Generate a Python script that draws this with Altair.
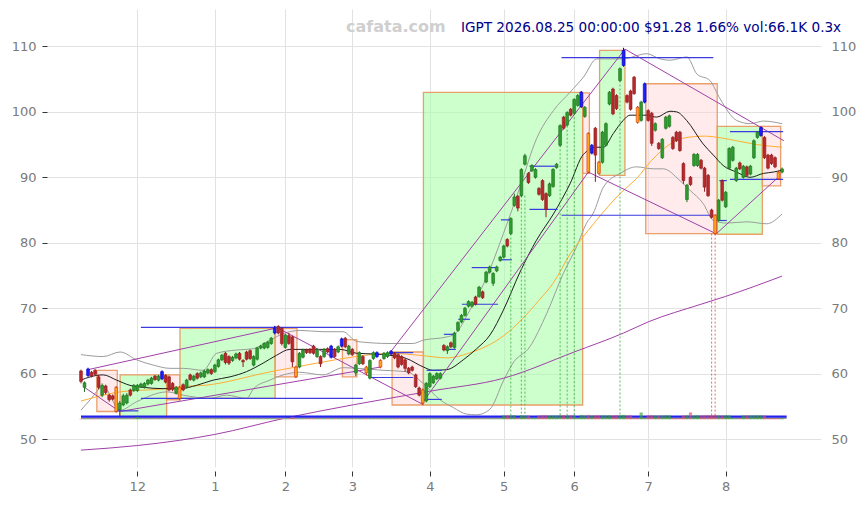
import json
import altair as alt
import pandas as pd

# ---------------- candle data (trading-day index 0 = 2025-11-06 ... 199 = 2026-08-25)
opens = [60.4, 57.9, 59.7, 60.2, 60.5, 59.5, 56.7, 58.1, 56.7, 56.6,
         57.9, 54.5, 55.2, 55.5, 57.5, 57.4, 57.4, 58.0, 57.9, 58.4,
         58.5, 59.6, 59.0, 59.2, 59.7, 59.5, 58.5, 57.0, 57.9, 58.3,
         57.9, 59.8, 59.0, 60.0, 59.5, 59.5, 60.1, 60.6, 60.3, 61.1,
         62.1, 63.1, 62.6, 62.0, 62.4, 63.1, 62.0, 63.3, 63.5, 61.3,
         62.2, 63.9, 63.9, 64.0, 64.6, 66.2, 67.2, 66.9, 64.0, 65.8,
         65.6, 61.0, 61.0, 62.5, 63.6, 63.7, 64.2, 62.6, 62.6, 62.6,
         63.8, 62.5, 63.7, 63.3, 64.2, 65.4, 63.0, 63.7, 60.1, 61.5,
         62.6, 61.0, 59.3, 62.3, 62.6, 62.0, 62.3, 62.6, 63.0, 63.1,
         62.9, 62.6, 62.1, 60.8, 61.0, 59.8, 57.8, 57.5, 55.8, 58.0,
         58.6, 59.2, 59.3, 64.3, 63.5, 64.7, 64.0, 66.6, 67.9, 68.9,
         70.3, 70.3, 71.7, 71.8, 72.5, 74.0, 75.5, 73.8, 75.7, 77.3,
         77.8, 80.5, 81.4, 85.7, 87.1, 87.2, 92.0, 90.6, 91.0, 90.0,
         88.3, 89.5, 87.5, 87.2, 88.6, 91.5, 94.9, 99.2, 98.0, 100.4,
         99.8, 101.0, 100.8, 99.3, 96.7, 93.7, 97.5, 92.3, 92.3, 94.9,
         101.2, 103.5, 102.5, 104.8, 107.1, 102.5, 103.2, 105.3, 100.7, 98.7,
         101.5, 100.2, 99.8, 97.2, 95.2, 93.0, 97.5, 97.8, 96.1, 96.9,
         96.9, 92.1, 86.6, 90.0, 91.8, 91.8, 92.6, 91.4, 90.3, 85.0,
         84.2, 83.4, 89.5, 85.5, 91.4, 92.6, 89.5, 92.2, 90.0, 91.6,
         90.5, 93.0, 96.1, 96.4, 96.1, 93.4, 93.4, 93.0, 90.8, 90.8]
closes = [58.8, 58.6, 60.7, 59.6, 59.9, 57.9, 58.2, 57.1, 56.0, 56.1,
          54.2, 55.5, 56.6, 56.7, 56.7, 58.2, 58.2, 58.4, 58.5, 59.0,
          59.3, 59.1, 59.6, 60.3, 58.7, 57.5, 57.6, 57.9, 56.2, 57.5,
          59.0, 59.1, 59.6, 59.3, 60.1, 60.4, 60.6, 60.0, 61.3, 62.1,
          62.8, 61.7, 61.6, 62.5, 63.0, 62.2, 61.8, 62.2, 62.3, 62.6,
          63.9, 64.2, 64.6, 64.8, 65.4, 66.9, 66.2, 64.6, 65.9, 64.6,
          61.8, 59.5, 63.1, 63.6, 63.2, 63.2, 63.1, 63.7, 61.5, 63.7,
          63.3, 64.2, 62.6, 64.1, 65.3, 64.1, 64.2, 62.9, 61.3, 63.2,
          61.5, 60.1, 62.0, 63.2, 63.2, 61.0, 63.1, 63.2, 63.4, 62.4,
          61.0, 61.4, 60.8, 60.1, 60.5, 58.0, 56.7, 55.5, 58.5, 60.0,
          59.6, 60.0, 60.0, 63.6, 64.1, 64.1, 66.2, 67.8, 68.9, 70.0,
          71.0, 70.9, 70.6, 73.2, 71.6, 75.5, 76.3, 75.3, 76.3, 77.8,
          79.5, 79.5, 83.7, 87.0, 85.3, 91.2, 93.3, 89.2, 91.8, 91.2,
          87.4, 86.6, 85.1, 89.0, 91.2, 92.0, 97.9, 97.5, 99.9, 99.5,
          101.9, 102.5, 103.0, 100.7, 90.8, 94.9, 93.4, 90.6, 96.9, 98.2,
          103.0, 99.7, 100.5, 106.6, 109.4, 101.5, 100.4, 102.8, 98.4, 101.5,
          104.3, 98.7, 95.2, 98.2, 94.4, 95.8, 99.2, 99.4, 94.4, 95.6,
          94.1, 89.5, 88.8, 88.9, 93.5, 93.5, 91.4, 88.5, 87.2, 83.9,
          81.4, 86.5, 86.5, 87.7, 94.4, 94.6, 91.4, 91.3, 91.7, 90.3,
          91.7, 95.6, 96.9, 97.6, 93.0, 91.4, 92.1, 91.6, 89.8, 91.28]
highs = [60.6, 58.8, 60.9, 60.4, 60.7, 59.8, 58.5, 58.3, 56.9, 56.8,
         58.1, 55.8, 56.9, 57.0, 57.7, 58.4, 58.4, 58.6, 58.7, 59.2,
         59.5, 59.8, 59.8, 60.5, 59.9, 59.7, 58.7, 58.1, 58.1, 58.5,
         59.2, 60.0, 59.8, 60.2, 60.3, 60.6, 60.8, 60.8, 61.5, 62.3,
         63.0, 63.3, 62.8, 62.7, 63.2, 63.3, 62.2, 63.5, 63.7, 62.8,
         64.1, 64.4, 64.8, 65.0, 65.6, 67.3, 67.4, 67.1, 66.1, 66.2,
         65.8, 61.2, 63.3, 63.8, 63.8, 63.9, 64.4, 63.9, 62.8, 63.9,
         64.0, 64.4, 63.9, 64.3, 65.5, 65.6, 64.4, 63.9, 61.5, 63.4,
         62.8, 61.2, 62.2, 63.4, 63.4, 62.2, 63.3, 63.4, 63.6, 63.3,
         63.1, 62.8, 62.3, 61.0, 61.2, 60.0, 58.0, 57.7, 58.7, 60.2,
         59.8, 60.2, 60.2, 64.5, 64.3, 64.9, 66.4, 68.0, 69.1, 70.2,
         71.2, 71.1, 71.9, 73.4, 72.7, 75.7, 76.5, 75.5, 76.5, 78.0,
         79.7, 80.7, 83.9, 87.5, 87.3, 91.4, 93.6, 90.8, 92.0, 91.4,
         88.5, 89.7, 87.7, 89.2, 91.4, 92.2, 98.1, 99.4, 100.1, 100.6,
         102.1, 102.7, 103.2, 100.9, 96.9, 95.1, 97.7, 92.5, 97.1, 98.4,
         103.2, 103.7, 102.7, 106.8, 109.8, 102.7, 103.4, 105.5, 100.9, 101.7,
         104.5, 100.4, 100.0, 98.4, 95.4, 96.0, 99.4, 99.6, 96.3, 97.1,
         97.1, 92.3, 89.0, 90.2, 93.7, 93.7, 92.8, 91.6, 90.5, 85.2,
         84.4, 86.7, 89.7, 87.9, 94.6, 94.8, 91.6, 92.4, 91.9, 91.8,
         91.9, 95.8, 97.1, 97.8, 96.3, 93.6, 93.6, 93.2, 91.0, 91.5]
lows = [58.5, 57.2, 59.5, 59.4, 59.7, 57.6, 56.4, 56.8, 55.7, 55.9,
        54.0, 53.5, 55.0, 55.3, 56.5, 57.2, 57.2, 57.8, 57.7, 58.2,
        58.3, 58.9, 58.8, 59.0, 58.5, 57.3, 57.3, 56.8, 55.9, 57.3,
        57.7, 58.9, 58.8, 59.1, 59.3, 59.3, 59.9, 59.8, 60.1, 60.9,
        61.9, 61.4, 61.3, 61.8, 62.2, 62.0, 61.0, 62.0, 62.1, 61.1,
        62.0, 63.7, 63.7, 63.8, 64.4, 66.0, 66.0, 64.3, 63.8, 64.4,
        61.0, 59.3, 60.8, 62.3, 63.0, 63.0, 62.9, 62.4, 61.0, 62.4,
        63.1, 62.3, 62.4, 63.1, 64.0, 63.9, 62.8, 62.7, 59.6, 61.3,
        61.3, 59.7, 59.1, 62.1, 62.4, 60.8, 62.1, 62.4, 62.8, 62.2,
        60.8, 61.2, 60.3, 59.9, 60.3, 57.8, 56.5, 55.2, 55.6, 57.8,
        58.4, 59.0, 59.1, 63.4, 63.0, 63.9, 63.8, 66.4, 67.7, 68.7,
        70.1, 70.1, 70.4, 71.6, 71.4, 73.8, 75.3, 73.4, 75.5, 77.1,
        77.6, 79.3, 81.2, 85.5, 84.8, 87.0, 91.8, 89.0, 90.8, 89.8,
        87.2, 86.4, 83.9, 87.0, 88.4, 91.3, 94.7, 97.3, 97.8, 99.3,
        99.6, 100.8, 100.6, 99.1, 90.6, 93.5, 89.3, 90.4, 92.1, 94.7,
        101.0, 99.5, 100.3, 104.6, 106.9, 101.3, 100.2, 102.6, 98.2, 98.5,
        101.3, 98.5, 94.8, 97.0, 94.2, 92.8, 97.3, 97.6, 94.2, 95.4,
        93.9, 89.0, 86.2, 88.7, 91.6, 91.6, 91.2, 87.8, 87.0, 83.7,
        81.2, 83.2, 86.3, 85.3, 91.2, 92.4, 89.3, 91.1, 89.8, 90.1,
        90.3, 92.8, 95.9, 96.2, 92.8, 91.2, 91.9, 91.4, 89.6, 90.6]
# g = up, r = down, b = marked high, o = marked low
kinds = list("rgbrrrgrrr" "ogggrggggg" "grgbrrrgor" "grgrgggrgg" "grrggrrrrg"
             "gggggbrrgr" "roggrrrgrg" "rbrgbrgrgg" "roggboggbr" "rrrrrrrogg"
             "gggrgrgggg" "ggrgrggggg" "grggrggrgg" "rrrggggrgr" "ggbgobrogg"
             "grrgbrrrog" "brrgrgggrr" "rrgrggrrrr" "ogrggggrgr" "gggbrrrrog")
volumes_k = [30] * 16 + [130] + [30] * 43 + [130] + [30] * 59 + [
    220, 230, 220, 240, 60, 230, 220, 210, 60, 60,
    220, 230, 240, 220, 210, 220, 230, 240, 220, 230,
    220, 60, 240, 220, 250, 220, 230, 220, 230, 220,
    230, 220, 240, 230, 250, 220, 230, 60, 60, 380,
    60, 220, 230, 220, 210, 220, 230, 220, 60, 60,
    60, 220, 230, 380, 220, 230, 220, 230, 240, 220,
    250, 230, 220, 230, 220, 60, 60, 60, 220, 230,
    220, 230, 220, 230, 220, 60, 60, 60, 60, 66.1]

month_idx = [16, 38, 58, 77, 99, 120, 140, 161, 183]
month_lbl = ["12", "1", "2", "3", "4", "5", "6", "7", "8"]
y_ticks = [50, 60, 70, 80, 90, 100, 110]

# ---------------- indicator lines
sma20_i = [0, 2.6, 6.3, 10.1, 13.9, 17.6, 23.3, 28.1, 32.8, 37.5, 42.3, 47, 51.7, 55.5, 59.3, 64.1,
           68.7, 73.5, 78.3, 83, 87.7, 92.4, 97.2, 99.9, 103.8, 108.5, 112.3, 116.1, 119.9, 124.6,
           129.3, 134.1, 138.8, 142.6, 146.4, 148.3, 151.1, 153.9, 155.8, 160.6, 163.4, 167.2,
           169.1, 171.9, 176.6, 179.5, 182.3, 186.1, 189.9, 193.7, 196.5, 199]
sma20_v = [59.0, 59.5, 59.8, 59.0, 58.2, 57.9, 57.7, 57.7, 58.2, 59.0, 59.5, 60.3, 61.6, 62.8, 63.7, 63.7,
           63.7, 63.7, 63.1, 63.0, 62.8, 62.3, 61.0, 60.5, 60.6, 62.1, 63.8, 65.9, 69.7, 75.5,
           80.4, 84.4, 89.0, 93.5, 94.6, 94.6, 96.7, 98.7, 99.5, 99.5, 99.2, 100.1,
           100.0, 98.7, 95.1, 93.4, 91.8, 90.8, 90.0, 90.6, 90.8, 91.1]
bbu_i = [0, 6.3, 11.1, 15.8, 20.5, 25.3, 29, 34.7, 38.5, 44.2, 48.9, 53.6, 57.4, 62.2, 68.7, 74.4,
         78.3, 87.7, 94.2, 97.1, 103.8, 106, 110.4, 115.2, 119.9, 124.6, 129.3, 134.1, 138.8, 142.6,
         146.4, 154.2, 157.7, 160.6, 164.4, 167.2, 172, 174.8, 178.5, 181.4, 186.1, 190, 193.7, 199]
bbu_v = [62.9, 62.6, 63.3, 62.1, 61.3, 60.8, 60.8, 60.5, 63.1, 63.6, 63.8, 65.1, 66.1, 66.6, 66.4, 66.4,
         64.9, 64.6, 64.6, 65.1, 65.6, 66.0, 69.7, 74.8, 81.4, 88.5, 95.9, 100.2, 103.0, 105.3,
         108.1, 108.1, 108.6, 108.9, 108.1, 107.9, 108.4, 105.8, 104.8, 102.0, 98.7, 98.2, 98.6, 98.2]
bbl_i = [0, 2.6, 6.3, 11.1, 15.8, 24.4, 29, 36.6, 41.3, 47, 49, 53.6, 57.4, 62, 68.7, 74.4, 78.3,
         85.7, 92.4, 97.1, 101.9, 105.7, 109.5, 112.3, 116, 120, 122.6, 127.4, 132.2, 136.9, 140.7,
         143.5, 145.4, 148.3, 153, 157.7, 162.4, 165.3, 170, 172.9, 176.6, 179.5, 183.3, 189, 194.6, 199]
bbl_v = [54.4, 56.0, 58.0, 54.4, 55.7, 57.2, 56.7, 56.2, 56.7, 56.2, 57.7, 59.0, 59.8, 60.2, 59.8, 60.9,
         60.8, 60.5, 60.3, 58.5, 56.0, 54.8, 53.8, 53.7, 54.5, 59.0, 61.6, 64.1, 69.2, 75.3, 79.4,
         83.0, 84.5, 88.5, 90.6, 91.6, 91.3, 91.3, 89.5, 88.0, 86.0, 83.4, 83.0, 83.2, 82.9, 84.4]
sma50_i = [0, 11, 24, 28, 35, 54, 61, 69, 78, 88, 96, 104, 110, 120, 125, 130, 134, 139, 144, 153,
           158, 162, 167, 172, 177, 182, 186, 192, 199]
sma50_v = [55.8, 57.2, 57.7, 58.0, 58.2, 60.3, 61.0, 61.8, 62.6, 63.1, 62.8, 62.4, 63.1, 65.8, 68.2,
           71.2, 73.8, 78.4, 81.9, 87.5, 90.0, 92.6, 95.0, 96.1, 96.3, 96.0, 95.6, 95.0, 94.6]
sma200_i = [0, 16, 28, 38, 58, 77, 99, 120, 140, 154, 161, 176, 183, 199]
sma200_v = [48.3, 49.0, 49.8, 50.7, 53.2, 55.2, 57.3, 59.3, 63.3, 66.2, 67.9, 70.6, 71.8, 74.9]

# ---------------- zones, trend lines, levels, signals
box_i0 = [4.5, 11.1, 24.3, 28.1, 55.1, 74.2, 88.3, 97.2, 142.4, 147.2, 160.3, 180.6, 193.4]
box_i1 = [10.3, 24.3, 28.1, 55.1, 61.3, 78.3, 97.2, 142.4, 144.3, 154.4, 180.6, 193.4, 198.6]
box_top = [60.5, 59.8, 59.8, 66.9, 66.9, 65.2, 63.3, 103.0, 102.9, 109.4, 104.3, 97.8, 97.8]
box_bot = [54.2, 53.4, 56.0, 56.2, 59.5, 59.5, 55.2, 55.2, 90.6, 90.3, 81.4, 81.3, 88.7]
box_up = [False, True, False, True, False, False, False, True, False, True, False, True, False]

tr_i0 = [0.7, 11, 2, 55, 97, 88, 154.4, 144, 180.4]
tr_v0 = [58.0, 54.2, 60.6, 67.2, 55.6, 63.4, 109.6, 90.8, 81.4]
tr_i1 = [11, 85, 55, 97, 144, 154.4, 199.5, 180.2, 198.5]
tr_v1 = [54.2, 61.0, 66.9, 55.3, 90.8, 109.6, 95.6, 81.4, 90.3]

lvl_i0 = [17.0, 17.0, 10.1, 82.0, 88.2, 98.1, 98.1, 103.0, 103.0, 107.1, 108.1, 110.9, 118.9,
          119.2, 127.3, 127.3, 136.4, 136.4, 181.2, 181.2, 184.2, 184.2]
lvl_i1 = [80.0, 80.0, 16.3, 94.3, 94.3, 102.4, 102.4, 106.4, 106.4, 110.4, 118.4, 118.4, 122.3,
          122.3, 135.3, 135.3, 179.5, 179.5, 183.3, 183.3, 199.3, 199.3]
lvl_v = [67.05, 56.2, 54.3, 59.4, 63.2, 60.5, 56.05, 66.0, 63.7, 68.3, 70.6, 76.2, 77.4,
         83.5, 91.7, 85.1, 84.2, 108.3, 89.5, 83.4, 97.0, 89.7]

sig_i = [122, 125, 126, 136, 138, 140, 153, 179, 180]
sig_top = [81.4, 87.2, 87.2, 94.9, 97.9, 99.8, 104.8, 81.4, 81.4]
sig_buy = [True, True, True, True, True, True, True, False, False]
sig_bottom = 53.6

vol_base = 53.0
vol_line = 53.43
vol_floor_line = 53.17
vol_px_per_k = 0.00278  # value units per thousand shares

title_text = "IGPT 2026.08.25 00:00:00 $91.28 1.66% vol:66.1K 0.3x"
brand_text = "cafata.com"

# ---------------- tables
N = len(closes)
FILL = {"g": "#2e9c2e", "r": "#b8292b", "b": "#1f1fff", "o": "#ffa31a"}
EDGE = {"g": "#1d6f1d", "r": "#8e1b1d", "b": "#0000c0", "o": "#cc3318"}
cd = pd.DataFrame({"i": list(range(N)), "o": opens, "h": highs, "l": lows, "c": closes, "k": kinds})
cd["fill"] = cd["k"].map(FILL)
cd["edge"] = cd["k"].map(EDGE)
cd["x0"] = cd["i"] - 0.4
cd["x1"] = cd["i"] + 0.4

vd = pd.DataFrame({"i": list(range(N)), "v": volumes_k,
                   "up": [c >= o for o, c in zip(opens, closes)]})
vd["x0"] = vd["i"] - 0.45
vd["x1"] = vd["i"] + 0.45
vd["yb"] = vol_base
vd["yt"] = vol_base + vd["v"] * vol_px_per_k
vd["col"] = vd["up"].map({True: "#3aa33a", False: "#d9506a"})

bx = pd.DataFrame({"x0": box_i0, "x1": box_i1, "yt": box_top, "yb": box_bot,
                   "fc": ["#aaffaa" if u else "#ffd2d2" for u in box_up],
                   "fo": [0.6 if u else 0.45 for u in box_up]})
tr = pd.DataFrame({"x0": tr_i0, "y0": tr_v0, "x1": tr_i1, "y1": tr_v1})
lv = pd.DataFrame({"x0": lvl_i0, "x1": lvl_i1, "y": lvl_v})
sg = pd.DataFrame({"i": sig_i, "yt": sig_top, "yb": [sig_bottom] * len(sig_i),
                   "col": ["#3fae3f" if b else "#e05050" for b in sig_buy]})
base = pd.DataFrame({"x0": [0, 0], "x1": [200.3, 200.3], "y": [vol_floor_line, vol_line],
                     "col": ["#9a9a9a", "#2222ee"], "w": [1.6, 2.2]})

def line_df(ii, vv):
    return pd.DataFrame({"i": ii, "v": vv})

# ---------------- scales / axes
xs = alt.Scale(domain=[-9.65, 210.05], nice=False, zero=False)
ys = alt.Scale(domain=[45.72, 115.73], nice=False, zero=False)
label_expr = "%s[indexof(%s, datum.value)]" % (json.dumps(month_lbl), json.dumps(month_idx))
xaxis = alt.Axis(values=month_idx, labelExpr=label_expr, grid=True, gridColor="#e2e2e2",
                 domain=False, tickColor="#333333", tickSize=5, offset=4, labelPadding=4,
                 labelColor="#7a7a7a", labelFontSize=13, labelFont="DejaVu Sans", title=None)
yleft = alt.Axis(values=y_ticks, grid=True, gridColor="#e2e2e2", domain=False, tickColor="#333333",
                 tickSize=5, labelPadding=6, labelColor="#7a7a7a", labelFontSize=13,
                 labelFont="DejaVu Sans", title=None)
yright = alt.Axis(values=y_ticks, orient="right", grid=False, domain=False, ticks=False,
                  labelPadding=10, labelColor="#7a7a7a", labelFontSize=13,
                  labelFont="DejaVu Sans", title=None)

def X(f):
    return alt.X(f, type="quantitative", scale=xs, axis=xaxis)

def Y(f, axis=None):
    return alt.Y(f, type="quantitative", scale=ys, axis=axis)

layers = []
# zones
layers.append(alt.Chart(bx).mark_rect(stroke="#e8965a", strokeWidth=1.3, strokeOpacity=0.9).encode(
    x=X("x0"), x2="x1", y=Y("yt", yleft), y2="yb",
    fill=alt.Fill("fc:N", scale=None), fillOpacity=alt.FillOpacity("fo:Q", scale=None)))
# bands and averages
for ii, vv, col in [(bbu_i, bbu_v, "#9c9c9c"), (bbl_i, bbl_v, "#9c9c9c"),
                    (sma50_i, sma50_v, "#ffad33"), (sma200_i, sma200_v, "#a040a8"),
                    (sma20_i, sma20_v, "#1e1e1e")]:
    layers.append(alt.Chart(line_df(ii, vv)).mark_line(
        color=col, strokeWidth=1, interpolate="monotone").encode(x=X("i"), y=Y("v")))
# trend lines
layers.append(alt.Chart(tr).mark_rule(color="#a040a8", strokeWidth=1).encode(
    x=X("x0"), x2="x1", y=Y("y0"), y2="y1"))
# levels
layers.append(alt.Chart(lv).mark_rule(color="#3a3ae0", strokeWidth=1.2).encode(
    x=X("x0"), x2="x1", y=Y("y")))
# signal lines
layers.append(alt.Chart(sg).mark_rule(strokeWidth=1, strokeDash=[2, 2], opacity=0.85).encode(
    x=X("i"), y=Y("yt"), y2="yb", color=alt.Color("col:N", scale=None)))
# volume base lines
layers.append(alt.Chart(base).mark_rule().encode(
    x=X("x0"), x2="x1", y=Y("y"), color=alt.Color("col:N", scale=None),
    strokeWidth=alt.StrokeWidth("w:Q", scale=None)))
# volume bars
layers.append(alt.Chart(vd).mark_rect(opacity=0.65).encode(
    x=X("x0"), x2="x1", y=Y("yb"), y2="yt", fill=alt.Fill("col:N", scale=None)))
# candles
layers.append(alt.Chart(cd).mark_rule(strokeWidth=1).encode(
    x=X("i"), y=Y("l"), y2="h", color=alt.Color("edge:N", scale=None)))
layers.append(alt.Chart(cd).mark_rect(strokeWidth=0.6).encode(
    x=X("x0"), x2="x1", y=Y("o", yright), y2="c",
    fill=alt.Fill("fill:N", scale=None), stroke=alt.Stroke("edge:N", scale=None)))
# header texts
layers.append(alt.Chart(pd.DataFrame({"t": [brand_text]})).mark_text(
    align="left", baseline="alphabetic", font="DejaVu Sans", fontSize=16, fontWeight="bold",
    color="#cfcfcf").encode(x=alt.value(299), y=alt.value(22.7), text="t:N"))
layers.append(alt.Chart(pd.DataFrame({"t": [title_text]})).mark_text(
    align="left", baseline="alphabetic", font="DejaVu Sans", fontSize=13.6,
    color="#000088").encode(x=alt.value(414), y=alt.value(22.7), text="t:N"))

chart = alt.layer(*layers).resolve_scale(y="independent").properties(
    width=774, height=458,
    padding={"left": 39, "top": 1, "right": 38, "bottom": 30},
    autosize=alt.AutoSizeParams(type="none"),
    background="white",
).configure_view(stroke=None)

chart.save("out.html", embed_options={"renderer": "svg", "actions": False})
